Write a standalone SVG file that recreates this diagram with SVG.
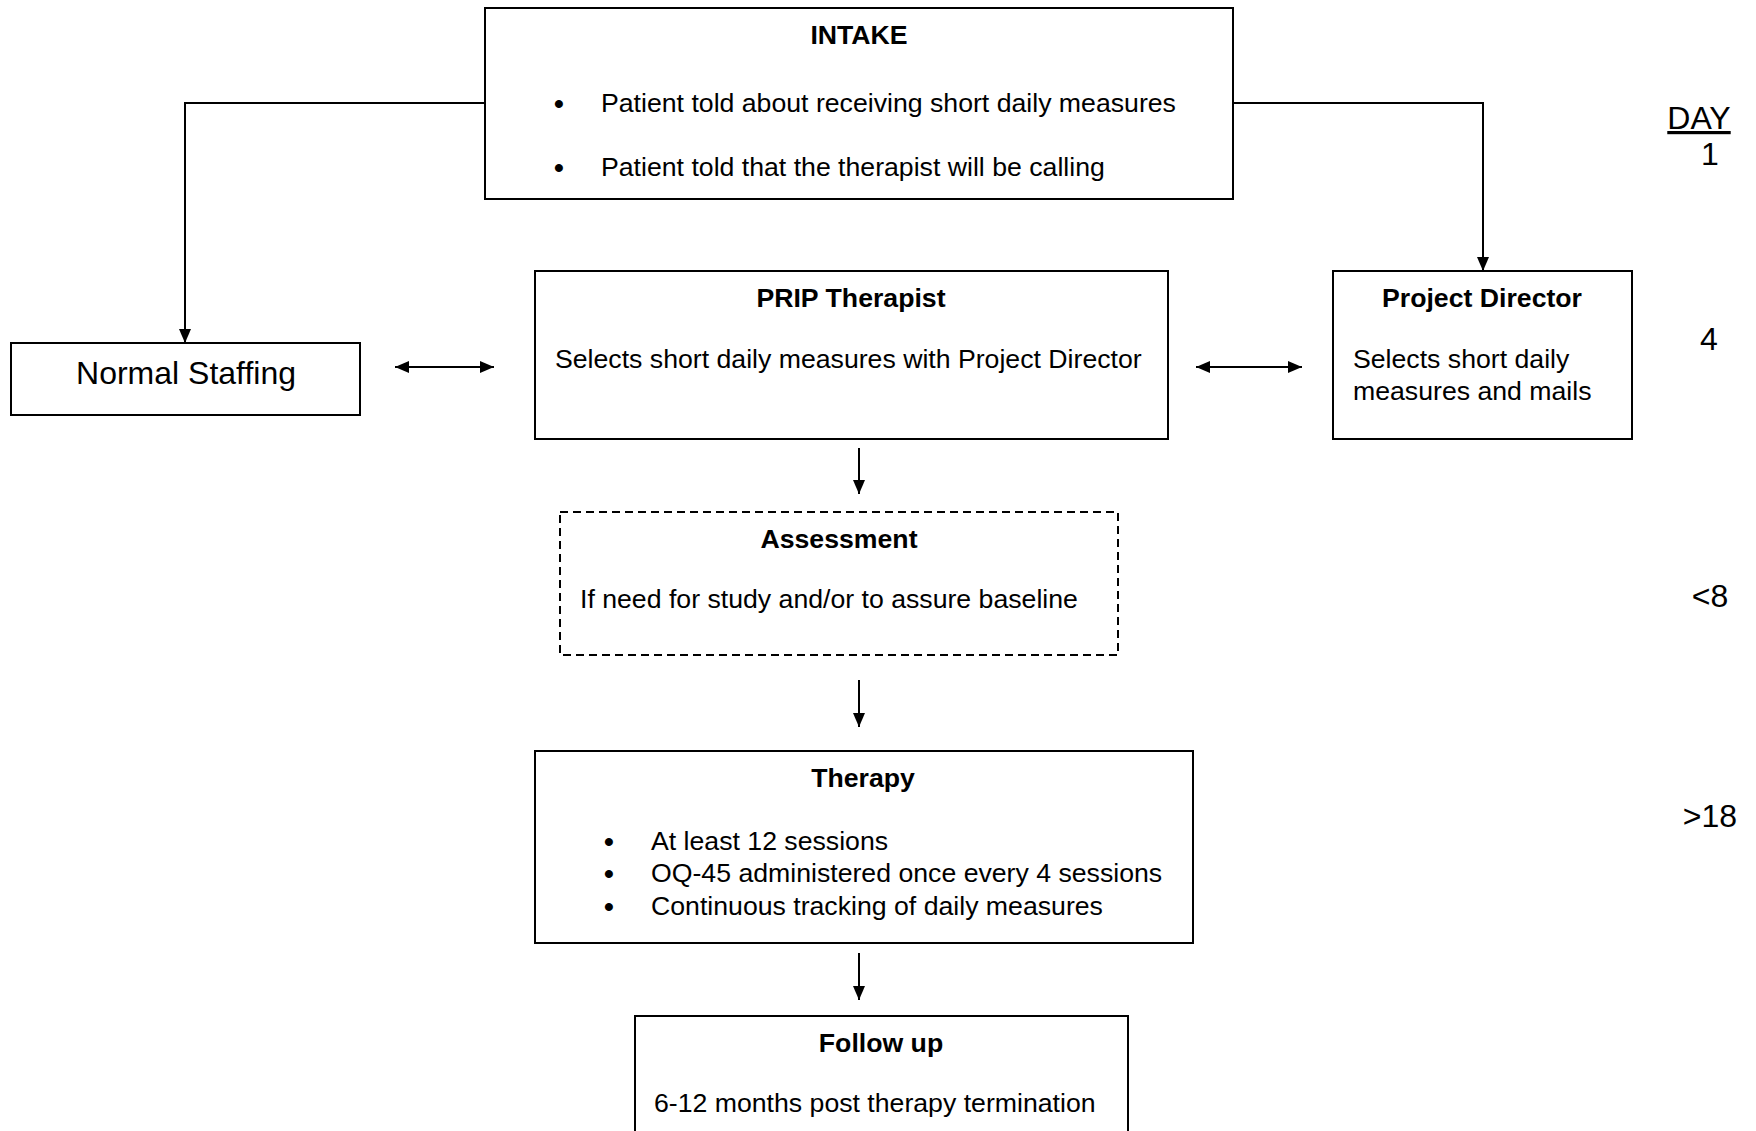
<svg xmlns="http://www.w3.org/2000/svg" width="1756" height="1131" viewBox="0 0 1756 1131">
<defs>
<style>
.box{fill:#fff;stroke:#000;stroke-width:2}
.dash{fill:#fff;stroke:#000;stroke-width:2;stroke-dasharray:8,5}
.con{fill:none;stroke:#000;stroke-width:2}
text{font-family:"Liberation Sans",Arial,sans-serif;fill:#000}
.t{font-size:26.67px;font-weight:bold;text-anchor:middle}
.b{font-size:26.67px}
.bu{font-size:28px;font-weight:bold;text-anchor:middle}
.lm{font-size:32px;text-anchor:middle}
</style>
<marker id="ah" viewBox="0 0 14 12" markerUnits="userSpaceOnUse" markerWidth="14" markerHeight="12" refX="14" refY="6" orient="auto-start-reverse">
<path d="M0,0 L14,6 L0,12 z" fill="#000"/>
</marker>
</defs>
<rect width="1756" height="1131" fill="#fff"/>

<g id="connectors">
<polyline class="con" points="485,103 185,103 185,343" marker-end="url(#ah)"/>
<polyline class="con" points="1233,103 1483,103 1483,271" marker-end="url(#ah)"/>
<line class="con" x1="395" y1="367" x2="494" y2="367" marker-start="url(#ah)" marker-end="url(#ah)"/>
<line class="con" x1="1196" y1="367" x2="1302" y2="367" marker-start="url(#ah)" marker-end="url(#ah)"/>
<line class="con" x1="859" y1="448" x2="859" y2="494" marker-end="url(#ah)"/>
<line class="con" x1="859" y1="680" x2="859" y2="727" marker-end="url(#ah)"/>
<line class="con" x1="859" y1="953" x2="859" y2="1000" marker-end="url(#ah)"/>
</g>

<g id="intake">
<rect class="box" x="485" y="8" width="748" height="191"/>
<text class="t" x="859" y="43.5">INTAKE</text>
<text class="bu" x="559" y="112.5">•</text>
<text class="b" x="601" y="111.5">Patient told about receiving short daily measures</text>
<text class="bu" x="559" y="176.5">•</text>
<text class="b" x="601" y="175.5">Patient told that the therapist will be calling</text>
</g>

<g id="normal-staffing">
<rect class="box" x="11" y="343" width="349" height="72"/>
<text class="lm" x="186" y="383.5">Normal Staffing</text>
</g>

<g id="prip-therapist">
<rect class="box" x="535" y="271" width="633" height="168"/>
<text class="t" x="851" y="306.5">PRIP Therapist</text>
<text class="b" x="555" y="368">Selects short daily measures with Project Director</text>
</g>

<g id="project-director">
<rect class="box" x="1333" y="271" width="299" height="168"/>
<text class="t" x="1482" y="306.5">Project Director</text>
<text class="b" x="1353" y="368">Selects short daily</text>
<text class="b" x="1353" y="399.5">measures and mails</text>
</g>

<g id="assessment">
<rect class="dash" x="560" y="512" width="558" height="143"/>
<text class="t" x="839" y="547.5">Assessment</text>
<text class="b" x="580" y="607.5">If need for study and/or to assure baseline</text>
</g>

<g id="therapy">
<rect class="box" x="535" y="751" width="658" height="192"/>
<text class="t" x="863" y="786.5">Therapy</text>
<text class="bu" x="609" y="850.5">•</text>
<text class="b" x="651" y="849.5">At least 12 sessions</text>
<text class="bu" x="609" y="883">•</text>
<text class="b" x="651" y="882">OQ-45 administered once every 4 sessions</text>
<text class="bu" x="609" y="915.5">•</text>
<text class="b" x="651" y="914.5">Continuous tracking of daily measures</text>
</g>

<g id="follow-up">
<rect class="box" x="635" y="1016" width="493" height="130"/>
<text class="t" x="881" y="1051.5">Follow up</text>
<text class="b" x="654" y="1111.5">6-12 months post therapy termination</text>
</g>

<g id="days">
<text class="lm" x="1699" y="129" text-decoration="underline">DAY</text>
<text class="lm" x="1710" y="165">1</text>
<text class="lm" x="1709" y="349.5">4</text>
<text class="lm" x="1710" y="606.5">&lt;8</text>
<text class="lm" x="1710" y="826.5">&gt;18</text>
</g>
</svg>
